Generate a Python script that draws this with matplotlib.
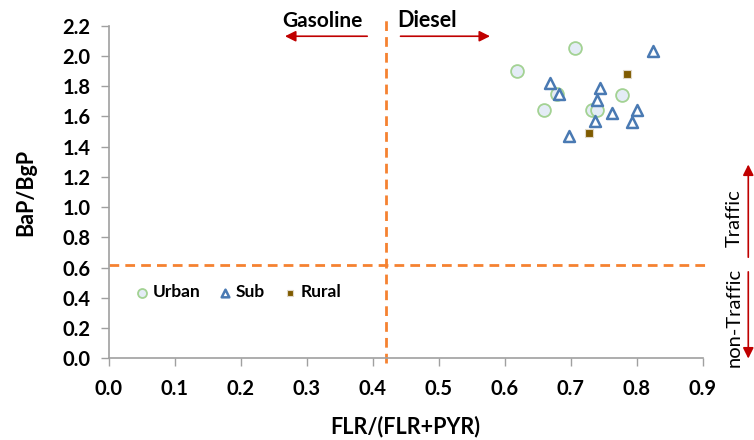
import matplotlib
matplotlib.use("Agg")
import matplotlib.pyplot as plt

plt.rcParams['font.family'] = ['Lato', 'DejaVu Sans']

# Diagnostic ratios per site type
urban_flr = [0.707, 0.619, 0.679, 0.777, 0.659, 0.732, 0.740]
urban_bap = [2.05, 1.90, 1.75, 1.74, 1.64, 1.64, 1.64]

sub_flr = [0.825, 0.669, 0.682, 0.745, 0.740, 0.763, 0.800, 0.737, 0.793, 0.697]
sub_bap = [2.03, 1.82, 1.75, 1.79, 1.71, 1.62, 1.64, 1.57, 1.56, 1.47]

rural_flr = [0.786, 0.728]
rural_bap = [1.88, 1.49]

x_ticks = [0.0, 0.1, 0.2, 0.3, 0.4, 0.5, 0.6, 0.7, 0.8, 0.9]
y_ticks = [0.0, 0.2, 0.4, 0.6, 0.8, 1.0, 1.2, 1.4, 1.6, 1.8, 2.0, 2.2]

flr_threshold = 0.42
bap_threshold = 0.62

fig = plt.figure(figsize=(7.54, 4.40), dpi=100)
ax = fig.add_axes([0.144, 0.1857, 0.788, 0.756])

ax.set_xlim(0, 0.9)
ax.set_ylim(0, 2.2)

orange = '#f58231'
ax.plot([flr_threshold, flr_threshold], [-0.03, 2.27], ls=(0, (3.5, 2.2)),
        color=orange, lw=2, clip_on=False, zorder=1)
ax.plot([0, 0.905], [bap_threshold, bap_threshold], ls=(0, (3.5, 2.2)),
        color=orange, lw=2, clip_on=False, zorder=1)

ax.scatter(urban_flr, urban_bap, s=85, marker='o', facecolor='#e4ecf6',
           edgecolor='#a3d293', linewidth=1.3, label='Urban', zorder=3)
ax.scatter(sub_flr, sub_bap, s=62, marker='^', facecolor='white',
           edgecolor='#4a7ab3', linewidth=1.8, label='Sub', zorder=4)
ax.scatter(rural_flr, rural_bap, s=38, marker='s', facecolor='#7f5b00',
           edgecolor='#e0d8c8', linewidth=0.8, label='Rural', zorder=5)

leg = ax.legend(loc='lower left', bbox_to_anchor=(0.017, 0.128), ncol=3,
                frameon=False, handletextpad=0.15, columnspacing=1.0,
                handlelength=0.9, markerscale=0.7,
                prop={'weight': 'bold', 'size': 12.5})

ax.set_xticks(x_ticks)
ax.set_xticklabels([f'{v:.1f}' for v in x_ticks])
ax.set_yticks(y_ticks)
ax.set_yticklabels([f'{v:.1f}' for v in y_ticks])
ax.tick_params(direction='out', length=6, width=1, color='#a0a0a0',
               labelsize=14.5, pad=7)
ax.tick_params(axis='x', pad=9)
for lab in ax.get_xticklabels() + ax.get_yticklabels():
    lab.set_fontweight('bold')

for side in ['top', 'right']:
    ax.spines[side].set_visible(False)
for side in ['left', 'bottom']:
    ax.spines[side].set_color('#a0a0a0')
    ax.spines[side].set_linewidth(1.2)

ax.set_xlabel('FLR/(FLR+PYR)', fontsize=15.5, fontweight='bold', labelpad=12)
ax.set_ylabel('BaP/BgP', fontsize=15.5, fontweight='bold', labelpad=19)

red = '#c00000'
arrow_kw = dict(arrowstyle='-|>', color=red, lw=1.2, mutation_scale=16)
# Source direction arrows
ax.annotate('', xy=(0.263, 2.13), xytext=(0.396, 2.13),
            xycoords='data', arrowprops=arrow_kw, annotation_clip=False)
ax.annotate('', xy=(0.582, 2.13), xytext=(0.438, 2.13),
            xycoords='data', arrowprops=arrow_kw, annotation_clip=False)
ax.text(0.385, 2.165, 'Gasoline', ha='right', va='bottom', fontsize=15,
        fontweight='bold')
ax.text(0.437, 2.165, 'Diesel', ha='left', va='bottom', fontsize=15.5,
        fontweight='bold')

# Traffic / non-traffic arrows on the right
ax.annotate('', xy=(0.969, 1.30), xytext=(0.969, 0.65),
            xycoords='data', arrowprops=arrow_kw, annotation_clip=False)
ax.annotate('', xy=(0.969, -0.02), xytext=(0.969, 0.59),
            xycoords='data', arrowprops=arrow_kw, annotation_clip=False)
ax.text(0.948, 0.93, 'Traffic', rotation=90, ha='center', va='center',
        fontsize=14.5, clip_on=False)
ax.text(0.948, 0.27, 'non-Traffic', rotation=90, ha='center', va='center',
        fontsize=14.5, clip_on=False)

fig.savefig('out.png', dpi=100)
